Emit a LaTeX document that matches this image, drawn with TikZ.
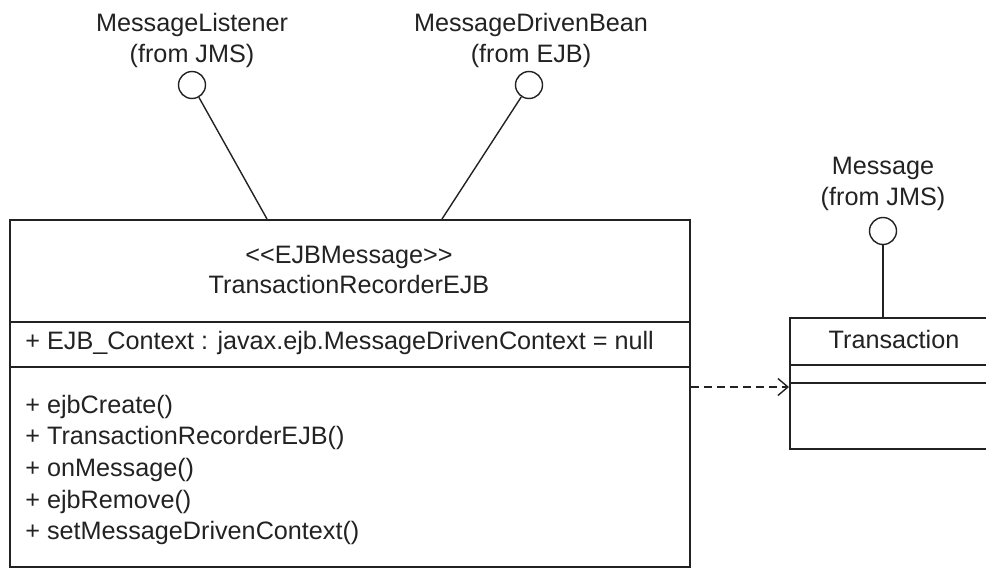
\documentclass[tikz,border=0pt]{standalone}
\usepackage{fontspec}
\setmainfont{Liberation Sans}
\usetikzlibrary{arrows.meta}
\definecolor{ink}{HTML}{222222}
\begin{document}
\begin{tikzpicture}[x=0.5pt,y=-0.5pt,
  txt/.style={inner sep=0pt, font=\fontsize{12.6}{15}\selectfont, text=ink, text height=9pt, text depth=2.6pt},
  ln/.style={draw=ink, line width=0.7pt},
  lolli/.style={circle, draw=ink, line width=0.7pt, minimum size=13.5pt, inner sep=0pt},
  classbox/.style={draw=ink, line width=0.75pt, inner sep=0pt, anchor=north west},
  dep/.style={draw=ink, line width=0.7pt, dash pattern=on 4pt off 2.5pt, -{Straight Barb[length=5pt,width=8.5pt,line width=0.7pt]}}
]
\useasboundingbox (0,0) rectangle (986,568);
\clip (0,0) rectangle (986,568);

% main class
\node[classbox, minimum width=340pt, minimum height=173.5pt] (main) at (9,219) {};
\draw[ln] (9,322) -- (689,322);
\draw[ln] (9,367) -- (689,367);
\node[txt] (stereo) at (349,257) {{<}{<}EJBMessage{>}{>}};
\node[txt] (mname) at (349,287) {TransactionRecorderEJB};
\node[txt, anchor=west] (attr) at (25,343) {+ EJB\_Context : javax.ejb.MessageDrivenContext = null};
\node[txt, anchor=west] (m1) at (25,407) {+ ejbCreate()};
\node[txt, anchor=west] (m2) at (25,438) {+ TransactionRecorderEJB()};
\node[txt, anchor=west] (m3) at (25,470) {+ onMessage()};
\node[txt, anchor=west] (m4) at (25,502) {+ ejbRemove()};
\node[txt, anchor=west] (m5) at (25,533) {+ setMessageDrivenContext()};

% interfaces of main
\node[txt] (mlname) at (192,25) {MessageListener};
\node[txt] (mlpkg) at (192,56) {(from JMS)};
\node[lolli] (ml) at (192,85) {};
\node[txt] (mdbname) at (531,25) {MessageDrivenBean};
\node[txt] (mdbpkg) at (531,56) {(from EJB)};
\node[lolli] (mdb) at (529,85) {};
\coordinate (mlend) at (267,219);
\coordinate (mdbend) at (442,219);
\draw[ln] (ml) -- (mlend);
\draw[ln] (mdb) -- (mdbend);

% Transaction class
\node[classbox, minimum width=105pt, minimum height=65.5pt] (trans) at (789,317) {};
\draw[ln] (789,365) -- (999,365);
\draw[ln] (789,383) -- (999,383);
\node[txt] (tname) at (894,342) {Transaction};
\node[txt] (msgname) at (883,168) {Message};
\node[txt] (msgpkg) at (883,199) {(from JMS)};
\node[lolli] (msg) at (883,231) {};
\draw[ln] (msg) -- (trans.north -| msg);

% dependency
\draw[dep] (main.east |- 0,387) -- (trans.west |- 0,387);
\end{tikzpicture}
\end{document}
